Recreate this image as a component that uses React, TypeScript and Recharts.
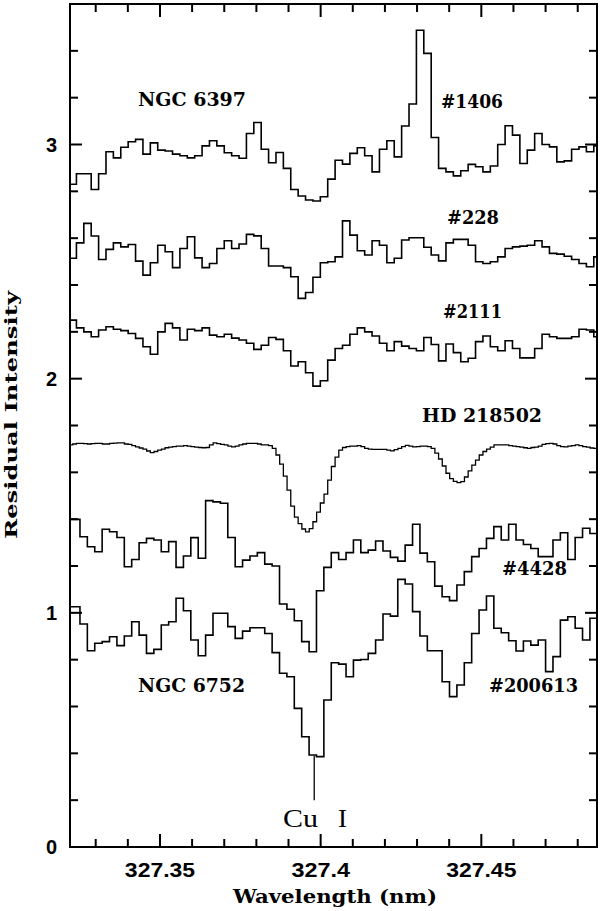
import { Line, LineChart, ReferenceArea, ReferenceLine, XAxis, YAxis } from "recharts";

// plot geometry (px)
const W = 600;
const H = 911;
const PLOT_H = 843;
const PLOT_W = 527;

const X_MIN = 327.322;
const X_MAX = 327.486;
const Y_MAX = 3.6;

const X_TICKS = [
  327.33, 327.34, 327.35, 327.36, 327.37, 327.38, 327.39, 327.4, 327.41, 327.42,
  327.43, 327.44, 327.45, 327.46, 327.47, 327.48,
];
const X_LABELS: Record<string, string> = {
  "327.35": "327.35",
  "327.4": "327.4",
  "327.45": "327.45",
};
const Y_TICKS = [0, 0.2, 0.4, 0.6, 0.8, 1, 1.2, 1.4, 1.6, 1.8, 2, 2.2, 2.4, 2.6, 2.8, 3, 3.2, 3.4];

// wavelength sampling: first bin edge and bin width (nm)
const GRID_START = 327.3217;
const GRID_START_LOW = 327.3205;
const BIN = 0.0023;
const HD_BIN = 0.00115;

// Cu I line marker
const CU_WAVE = 327.398;

// NGC 6397 #1406
const star1406 = [
  2.83, 2.875, 2.875, 2.808, 2.875, 2.969, 2.943, 2.988, 3.012, 3.022, 2.959, 3.007,
  2.976, 2.972, 2.959, 2.952, 2.943, 2.952, 2.994, 3.016, 2.994, 2.965, 2.952, 2.941,
  3.047, 3.094, 2.98, 2.922, 2.966, 2.898, 2.808, 2.78, 2.763, 2.759, 2.777, 2.852,
  2.933, 2.916, 2.962, 2.986, 2.952, 2.883, 2.98, 3.016, 2.947, 3.079, 3.173, 3.488,
  3.389, 3.03, 2.898, 2.883, 2.866, 2.888, 2.915, 2.905, 2.883, 2.908, 3.0, 3.08,
  3.04, 2.919, 2.976, 3.047, 3.0, 2.99, 2.926, 2.93, 2.98, 2.99, 2.969, 2.994,
];

// #228
const star228 = [
  2.514, 2.58, 2.663, 2.609, 2.509, 2.552, 2.58, 2.563, 2.573, 2.502, 2.442, 2.495,
  2.57, 2.542, 2.474, 2.556, 2.606, 2.516, 2.474, 2.492, 2.556, 2.589, 2.556, 2.575,
  2.616, 2.61, 2.556, 2.481, 2.481, 2.474, 2.435, 2.343, 2.368, 2.433, 2.495, 2.499,
  2.52, 2.674, 2.613, 2.546, 2.528, 2.589, 2.57, 2.495, 2.514, 2.592, 2.602, 2.602,
  2.561, 2.528, 2.503, 2.58, 2.595, 2.595, 2.57, 2.499, 2.492, 2.499, 2.52, 2.556,
  2.563, 2.566, 2.57, 2.589, 2.563, 2.535, 2.532, 2.523, 2.509, 2.492, 2.478, 2.52,
];

// #2111
const star2111 = [
  2.25, 2.217, 2.2, 2.179, 2.208, 2.222, 2.211, 2.205, 2.193, 2.172, 2.136, 2.104,
  2.2, 2.236, 2.217, 2.165, 2.211, 2.205, 2.217, 2.186, 2.179, 2.19, 2.173, 2.165,
  2.151, 2.125, 2.143, 2.176, 2.168, 2.119, 2.054, 2.072, 2.025, 1.968, 1.991, 2.079,
  2.129, 2.143, 2.19, 2.217, 2.2, 2.182, 2.151, 2.119, 2.158, 2.139, 2.129, 2.119,
  2.176, 2.146, 2.076, 2.148, 2.111, 2.072, 2.087, 2.158, 2.182, 2.136, 2.119, 2.162,
  2.129, 2.089, 2.089, 2.129, 2.19, 2.179, 2.172, 2.172, 2.179, 2.211, 2.208, 2.179,
];

// HD 218502 (finer sampling)
const hd218502 = [
  1.717, 1.721, 1.724, 1.724, 1.723, 1.721, 1.723, 1.724, 1.724, 1.721, 1.721, 1.724,
  1.725, 1.726, 1.726, 1.721, 1.719, 1.714, 1.709, 1.704, 1.699, 1.691, 1.684, 1.689,
  1.695, 1.699, 1.705, 1.708, 1.71, 1.712, 1.712, 1.714, 1.712, 1.71, 1.708, 1.706,
  1.705, 1.706, 1.717, 1.726, 1.723, 1.719, 1.717, 1.712, 1.709, 1.712, 1.717, 1.721,
  1.724, 1.724, 1.724, 1.721, 1.717, 1.717, 1.714, 1.702, 1.674, 1.635, 1.584, 1.524,
  1.456, 1.409, 1.381, 1.358, 1.346, 1.36, 1.389, 1.43, 1.469, 1.507, 1.567, 1.625,
  1.665, 1.695, 1.706, 1.71, 1.712, 1.712, 1.714, 1.71, 1.702, 1.699, 1.698, 1.698,
  1.698, 1.698, 1.695, 1.692, 1.697, 1.702, 1.71, 1.715, 1.712, 1.709, 1.71, 1.712,
  1.712, 1.71, 1.702, 1.682, 1.657, 1.627, 1.596, 1.573, 1.561, 1.556, 1.56, 1.58,
  1.606, 1.631, 1.652, 1.674, 1.689, 1.699, 1.708, 1.717, 1.717, 1.717, 1.717, 1.714,
  1.712, 1.71, 1.708, 1.705, 1.702, 1.706, 1.708, 1.712, 1.719, 1.723, 1.724, 1.721,
  1.714, 1.71, 1.709, 1.712, 1.714, 1.717, 1.714, 1.71, 1.708, 1.704, 1.702,
];

// #4428
const star4428 = [
  1.399, 1.399, 1.325, 1.282, 1.261, 1.357, 1.346, 1.322, 1.197, 1.228, 1.299, 1.318,
  1.311, 1.261, 1.304, 1.194, 1.243, 1.321, 1.233, 1.479, 1.474, 1.468, 1.322, 1.197,
  1.225, 1.243, 1.257, 1.208, 1.2, 1.038, 1.015, 0.966, 0.877, 0.834, 1.094, 1.194,
  1.257, 1.228, 1.257, 1.311, 1.257, 1.268, 1.307, 1.264, 1.237, 1.221, 1.289, 1.378,
  1.255, 1.218, 1.114, 1.069, 1.052, 1.119, 1.176, 1.24, 1.275, 1.318, 1.368, 1.311,
  1.378, 1.311, 1.292, 1.275, 1.24, 1.24, 1.311, 1.342, 1.228, 1.322, 1.361, 1.339,
];

// NGC 6752 #200613
const star200613 = [
  1.026, 1.026, 0.952, 0.838, 0.87, 0.877, 0.898, 0.86, 0.901, 0.962, 0.905, 0.827,
  0.844, 0.948, 0.962, 1.062, 1.009, 0.884, 0.817, 0.905, 0.998, 0.998, 0.941, 0.891,
  0.922, 0.936, 0.936, 0.912, 0.83, 0.742, 0.727, 0.592, 0.471, 0.393, 0.386, 0.628,
  0.787, 0.781, 0.727, 0.798, 0.801, 0.827, 0.884, 0.995, 0.986, 1.143, 1.123, 1.005,
  0.901, 0.838, 0.838, 0.706, 0.642, 0.692, 0.787, 0.912, 1.012, 1.072, 0.934, 0.915,
  0.881, 0.837, 0.88, 0.862, 0.884, 0.749, 0.813, 0.969, 0.983, 0.934, 0.884, 0.977,
];

// bin values -> step points (left edges, plus a closing edge)
function toSteps(start: number, step: number, values: number[]) {
  return [...values, values[values.length - 1]].map((v, i) => ({ w: start + i * step, v }));
}

const SERIES = [
  { data: toSteps(GRID_START, BIN, star1406), width: 1.6 },
  { data: toSteps(GRID_START, BIN, star228), width: 1.6 },
  { data: toSteps(GRID_START, BIN, star2111), width: 1.6 },
  { data: toSteps(GRID_START, HD_BIN, hd218502), width: 1.3 },
  { data: toSteps(GRID_START_LOW, BIN, star4428), width: 1.6 },
  { data: toSteps(GRID_START_LOW, BIN, star200613), width: 1.6 },
];

const TICK_FONT = "'Liberation Sans', Arial, sans-serif";
const LABEL_FONT = "'DejaVu Serif', serif";

function XTick(props: any) {
  const { x, y, payload } = props;
  const label = X_LABELS[String(payload.value)];
  const len = label ? 13 : 8;
  return (
    <g>
      <line x1={x} y1={y} x2={x} y2={y - len} stroke="#000" strokeWidth={2} />
      <line x1={x} y1={y - PLOT_H} x2={x} y2={y - PLOT_H + len} stroke="#000" strokeWidth={2} />
      {label && (
        <text
          x={x}
          y={y + 30}
          textAnchor="middle"
          fontFamily={TICK_FONT}
          fontWeight="bold"
          fontSize={20}
          textLength={label.length * 11.7}
          lengthAdjust="spacingAndGlyphs"
        >
          {label}
        </text>
      )}
    </g>
  );
}

function YTick(props: any) {
  const { x, y, payload } = props;
  const major = Number.isInteger(payload.value);
  const len = major ? 12 : 8;
  return (
    <g>
      <line x1={x} y1={y} x2={x + len} y2={y} stroke="#000" strokeWidth={2} />
      <line x1={x + PLOT_W} y1={y} x2={x + PLOT_W - len} y2={y} stroke="#000" strokeWidth={2} />
      {major && (
        <text
          x={x - 13}
          y={y + 7}
          textAnchor="end"
          fontFamily={TICK_FONT}
          fontWeight="bold"
          fontSize={20}
        >
          {payload.value}
        </text>
      )}
    </g>
  );
}

function Label({ x, y, len, children }: { x: number; y: number; len: number; children: string }) {
  return (
    <text
      x={x}
      y={y}
      fontFamily={LABEL_FONT}
      fontWeight="bold"
      fontSize={19}
      textLength={len}
      lengthAdjust="spacingAndGlyphs"
    >
      {children}
    </text>
  );
}

export default function App() {
  return (
    <div style={{ position: "absolute", left: 0, top: 0, width: W, height: H, background: "#fff" }}>
      <LineChart width={W} height={H} margin={{ top: 4, right: 3, bottom: 0, left: 0 }}>
        <XAxis
          type="number"
          dataKey="w"
          domain={[X_MIN, X_MAX]}
          allowDataOverflow
          ticks={X_TICKS}
          interval={0}
          height={64}
          tickSize={0}
          tickMargin={0}
          axisLine={false}
          tick={XTick}
        />
        <YAxis
          type="number"
          domain={[0, Y_MAX]}
          allowDataOverflow
          ticks={Y_TICKS}
          interval={0}
          width={70}
          tickSize={0}
          tickMargin={0}
          axisLine={false}
          tick={YTick}
        />
        <ReferenceArea
          x1={X_MIN}
          x2={X_MAX}
          y1={0}
          y2={Y_MAX}
          fill="none"
          stroke="#000"
          strokeWidth={2}
          fillOpacity={0}
        />
        {SERIES.map((s, i) => (
          <Line
            key={i}
            data={s.data}
            dataKey="v"
            type="stepAfter"
            stroke="#000"
            strokeWidth={s.width}
            dot={false}
            activeDot={false}
            isAnimationActive={false}
          />
        ))}
        <ReferenceLine
          segment={[
            { x: CU_WAVE, y: 0.2 },
            { x: CU_WAVE, y: 0.39 },
          ]}
          stroke="#000"
          strokeWidth={1.3}
        />
      </LineChart>
      <svg
        width={W}
        height={H}
        style={{ position: "absolute", left: 0, top: 0, pointerEvents: "none" }}
      >
        <Label x={138} y={106} len={108}>NGC  6397</Label>
        <Label x={441} y={108} len={62}>#1406</Label>
        <Label x={447} y={224} len={52}>#228</Label>
        <Label x={443} y={318} len={59}>#2111</Label>
        <Label x={422} y={422} len={120}>HD  218502</Label>
        <Label x={502} y={575} len={65}>#4428</Label>
        <Label x={138} y={692} len={107}>NGC  6752</Label>
        <Label x={489} y={692} len={89}>#200613</Label>
        <text x={283} y={827} fontFamily="'Liberation Serif', serif" fontSize={26} textLength={35} lengthAdjust="spacingAndGlyphs">
          Cu
        </text>
        <text x={338} y={827} fontFamily="'Liberation Serif', serif" fontSize={26} textLength={9} lengthAdjust="spacingAndGlyphs">
          I
        </text>
        <text
          x={335}
          y={903}
          textAnchor="middle"
          fontFamily={LABEL_FONT}
          fontWeight="bold"
          fontSize={19}
          textLength={204}
          lengthAdjust="spacingAndGlyphs"
        >
          Wavelength (nm)
        </text>
        <text
          transform="translate(17,415) rotate(-90)"
          textAnchor="middle"
          fontFamily={LABEL_FONT}
          fontWeight="bold"
          fontSize={17}
          textLength={248}
          lengthAdjust="spacingAndGlyphs"
        >
          Residual Intensity
        </text>
      </svg>
    </div>
  );
}
